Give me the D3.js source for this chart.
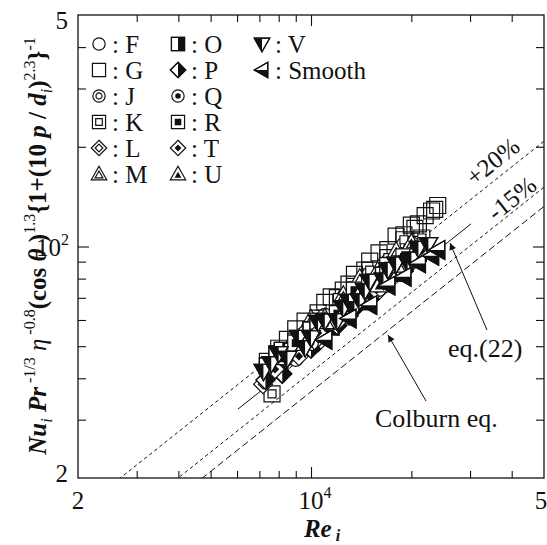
<!DOCTYPE html>
<html>
<head>
<meta charset="utf-8">
<script src="https://cdn.jsdelivr.net/npm/d3@7"></script>
<style>
body { margin: 0; background: #fff; }
</style>
</head>
<body>
<svg id="chart" width="547" height="545" font-family="'Liberation Serif', 'Times New Roman', 'DejaVu Serif', serif"></svg>
<script>
// data: Re_i and the Nu group for each tube
const reF = [8000, 9000, 10000, 11000, 12000, 13000, 14500, 16000, 18000, 20000]
const nuF = [43.2, 45.8, 53.4, 56.4, 63.2, 65.5, 74.5, 79.4, 89.8, 101.8]
const reG = [7400, 8000, 8500, 9000, 9600, 10500, 11000, 11500, 12500, 13000, 13500, 14500, 15000, 16000, 17000, 18000, 19000, 20000, 20500, 21000, 22000, 23000, 23500, 24000]
const nuG = [45.0, 49.3, 52.4, 56.4, 59.5, 63.0, 67.8, 70.5, 73.8, 77.0, 82.4, 84.9, 90.3, 95.7, 97.9, 107.5, 108.5, 116.1, 113.4, 117.0, 124.0, 128.0, 129.5, 133.0]
const reJ = [8500, 9600, 11000, 12500, 14000, 15000, 17000, 19000, 20000]
const nuJ = [47.8, 54.7, 61.7, 69.9, 74.9, 82.5, 90.0, 101.1, 100.0]
const reK = [7640, 9000, 10500, 12000, 13500, 15000, 17000, 19000, 21500]
const nuK = [35.9, 51.8, 60.8, 70.1, 75.8, 84.8, 92.5, 104.8, 106.1]
const reL = [7180, 8200, 9200, 10500, 11500, 13000, 14500, 16000, 18000, 20000]
const nuL = [38.4, 41.2, 47.5, 51.3, 57.9, 61.8, 71.2, 73.8, 85.8, 90.8]
const reM = [8800, 10000, 11000, 12500, 14000, 16000, 18000, 20000]
const nuM = [51.7, 60.5, 60.9, 71.3, 80.3, 85.7, 96.8, 102.4]
const reO = [7400, 7900, 8200, 8800, 9600, 10000, 10500, 11500, 12500, 13500, 14000, 15000, 16500, 17000, 18000, 19500, 21000]
const nuO = [43.6, 47.4, 48.6, 48.3, 50.3, 56.0, 56.7, 57.2, 63.8, 70.7, 68.2, 72.8, 82.0, 86.4, 83.1, 92.3, 95.3]
const reP = [7300, 8200, 9200, 10000, 11000, 12000, 13500, 15000, 17000, 19000, 21000]
const nuP = [39.5, 41.3, 47.6, 49.1, 56.0, 57.7, 65.0, 69.3, 79.4, 84.4, 92.6]
const reQ = [8500, 10000, 11500, 13000, 14500, 16000, 18000, 20000]
const nuQ = [46.8, 51.2, 58.9, 62.7, 71.9, 74.5, 85.4, 90.4]
const reR = [9000, 10500, 12000, 13500, 15000, 17000, 19000]
const nuR = [51.1, 59.5, 62.7, 73.8, 76.9, 87.5, 93.0]
const reT = [7800, 9200, 10500, 12000, 13500, 15000, 17000, 19500, 21500]
const nuT = [42.6, 46.6, 54.8, 59.3, 67.8, 70.8, 81.6, 88.6, 97.1]
const reU = [8200, 9600, 11000, 12500, 14000, 16000, 18000, 20000]
const nuU = [46.2, 51.0, 59.3, 62.9, 71.9, 76.6, 87.9, 92.9]
const reV = [7200, 7600, 8000, 8500, 9200, 9600, 10000, 10500, 11000, 12000, 12500, 13000, 13500, 14000, 14500, 15000, 16500, 17000, 18000, 19500, 20000, 21000, 22500]
const nuV = [42.0, 44.3, 47.5, 45.9, 53.2, 49.5, 53.0, 59.0, 59.6, 59.7, 65.3, 68.3, 64.9, 68.5, 73.6, 78.5, 79.2, 85.2, 88.5, 89.3, 91.6, 98.7, 101.3]
const reSmooth = [11000, 13000, 15000, 17000, 19000, 21000, 23000, 24000]
const nuSmooth = [52.3, 60.6, 66.5, 76.2, 81.0, 88.9, 93.7, 97.6]

// correlation lines  C * Re^0.8
const kUpper = 0.0362 // +20%
const kEq22 = 0.0305
const kLower = 0.0263 // -15%
const kColburn = 0.023
const eq22Range = [6040, 30200]

const xTicks = [3000, 4000, 5000, 6000, 7000, 8000, 9000, 10000, 20000, 30000, 40000]
const yTicks = [30, 40, 50, 60, 70, 80, 90, 100, 200, 300, 400]

const series = [
	{ name: 'F', type: 'circle', re: reF, nu: nuF },
	{ name: 'G', type: 'square', re: reG, nu: nuG },
	{ name: 'J', type: 'dcircle', re: reJ, nu: nuJ },
	{ name: 'K', type: 'dsquare', re: reK, nu: nuK },
	{ name: 'L', type: 'ddiamond', re: reL, nu: nuL },
	{ name: 'M', type: 'dtriangle', re: reM, nu: nuM },
	{ name: 'O', type: 'halfsquare', re: reO, nu: nuO },
	{ name: 'P', type: 'halfdiamond', re: reP, nu: nuP },
	{ name: 'Q', type: 'dotcircle', re: reQ, nu: nuQ },
	{ name: 'R', type: 'dotsquare', re: reR, nu: nuR },
	{ name: 'T', type: 'dotdiamond', re: reT, nu: nuT },
	{ name: 'U', type: 'dottriangle', re: reU, nu: nuU },
	{ name: 'V', type: 'vtri', re: reV, nu: nuV },
	{ name: 'Smooth', type: 'smooth', re: reSmooth, nu: nuSmooth },
]

const svg = d3.select('#chart')
const pL = 78, pR = 544, pT = 15, pB = 478
const ink = '#111'

const x = d3.scaleLog().domain([2000, 50000]).range([pL, pR])
const y = d3.scaleLog().domain([20, 500]).range([pB, pT])

const defs = svg.append('defs')
defs.append('clipPath').attr('id', 'plot')
	.append('rect').attr('x', pL).attr('y', pT)
	.attr('width', pR - pL).attr('height', pB - pT)
defs.append('marker').attr('id', 'arrow')
	.attr('viewBox', '0 0 10 10').attr('refX', 10).attr('refY', 5)
	.attr('markerWidth', 11).attr('markerHeight', 7)
	.attr('markerUnits', 'userSpaceOnUse').attr('orient', 'auto')
	.append('path').attr('d', 'M0,0 L10,5 L0,10 Z').attr('fill', ink)

// ticks (inside, on all four sides)
function tickAxis(axis, tf, vals, len) {
	const g = svg.append('g').attr('transform', tf)
		.call(axis.tickValues(vals).tickSize(-len).tickFormat(''))
	g.select('.domain').remove()
	g.selectAll('line').attr('stroke', ink).attr('stroke-width', 1.1)
}
const minorX = xTicks.filter(d => d !== 10000), minorY = yTicks.filter(d => d !== 100)
tickAxis(d3.axisBottom(x), `translate(0,${pB})`, minorX, 7)
tickAxis(d3.axisBottom(x), `translate(0,${pB})`, [10000], 11)
tickAxis(d3.axisTop(x), `translate(0,${pT})`, minorX, 7)
tickAxis(d3.axisTop(x), `translate(0,${pT})`, [10000], 11)
tickAxis(d3.axisLeft(y), `translate(${pL},0)`, minorY, 8)
tickAxis(d3.axisLeft(y), `translate(${pL},0)`, [100], 11)
tickAxis(d3.axisRight(y), `translate(${pR},0)`, minorY, 8)
tickAxis(d3.axisRight(y), `translate(${pR},0)`, [100], 11)

svg.append('rect').attr('x', pL).attr('y', pT)
	.attr('width', pR - pL).attr('height', pB - pT)
	.attr('fill', 'none').attr('stroke', ink).attr('stroke-width', 1.3)

// correlation lines
const lineG = svg.append('g').attr('clip-path', 'url(#plot)')
const powLine = d3.line().x(d => x(d[0])).y(d => y(d[1]))
function corr(k, range, dash) {
	const pts = range.map(r => [r, k * Math.pow(r, 0.8)])
	lineG.append('path').attr('d', powLine(pts))
		.attr('fill', 'none').attr('stroke', ink).attr('stroke-width', 1)
		.attr('stroke-dasharray', dash)
}
corr(kUpper, [2000, 50000], '3.5,3')
corr(kLower, [2000, 50000], '3.5,3')
corr(kColburn, [2000, 50000], '7,3.5')
corr(kEq22, eq22Range, null)

// markers
function tri(h, dir) {
	if (dir === 'up') return `M0,${-h}L${h},${h * 0.75}L${-h},${h * 0.75}Z`
	if (dir === 'down') return `M0,${h}L${h},${-h * 0.75}L${-h},${-h * 0.75}Z`
	return `M${-h},0L${h * 0.75},${-h}L${h * 0.75},${h}Z`
}
const sq = h => `M${-h},${-h}H${h}V${h}H${-h}Z`
const dia = h => `M0,${-h}L${h},0L0,${h}L${-h},0Z`

function drawMarker(g, type, sc) {
	const sw = 1.2
	const open = (d, f) => g.append('path').attr('d', d).attr('fill', f || '#fff').attr('stroke', ink).attr('stroke-width', sw)
	const solid = (d) => g.append('path').attr('d', d).attr('fill', ink)
	const circ = (r, fill) => g.append('circle').attr('r', r).attr('fill', fill).attr('stroke', fill === ink ? 'none' : ink).attr('stroke-width', sw)
	const rc = 7.5 * sc, rs = 8 * sc, rd = 9.4 * sc, rt = 9.4 * sc
	switch (type) {
		case 'circle': circ(rc, '#fff'); break
		case 'square': open(sq(rs), 'none'); break
		case 'dcircle': circ(rc, '#fff'); circ(rc * 0.5, '#fff'); break
		case 'dsquare': open(sq(rs), 'none'); open(sq(rs * 0.5)); break
		case 'ddiamond': open(dia(rd)); open(dia(rd * 0.5)); break
		case 'dtriangle': open(tri(rt, 'up')); g.append('path').attr('d', tri(rt * 0.5, 'up')).attr('transform', `translate(0,${rt * 0.12})`).attr('fill', '#fff').attr('stroke', ink).attr('stroke-width', sw); break
		case 'halfsquare': open(sq(rs)); solid(`M0,${-rs}H${rs}V${rs}H0Z`); open(sq(rs), 'none'); break
		case 'halfdiamond': open(dia(rd)); solid(`M0,${-rd}L${rd},0L0,${rd}Z`); open(dia(rd), 'none'); break
		case 'dotcircle': circ(rc, '#fff'); circ(rc * 0.45, ink); break
		case 'dotsquare': open(sq(rs)); solid(sq(rs * 0.5)); break
		case 'dotdiamond': open(dia(rd)); solid(dia(rd * 0.45)); break
		case 'dottriangle': open(tri(rt, 'up')); g.append('path').attr('d', tri(rt * 0.45, 'up')).attr('transform', `translate(0,${rt * 0.15})`).attr('fill', ink); break
		case 'vtri': open(tri(rt, 'down')); solid(`M0,${rt}L${-rt},${-rt * 0.75}L0,${-rt * 0.75}Z`); open(tri(rt, 'down'), 'none'); break
		case 'smooth': open(tri(rt, 'left')); solid(`M${-rt},0L${rt * 0.75},0L${rt * 0.75},${rt}Z`); open(tri(rt, 'left'), 'none'); break
	}
}

const markG = svg.append('g').attr('clip-path', 'url(#plot)')
series.forEach(s => {
	const pts = s.re.map((r, i) => [r, s.nu[i]])
	markG.selectAll(null).data(pts).enter().append('g')
		.attr('transform', d => `translate(${x(d[0])},${y(d[1])})`)
		.each(function () { drawMarker(d3.select(this), s.type, 1) })
})

// legend
const legCols = [[0, 1, 2, 3, 4, 5], [6, 7, 8, 9, 10, 11], [12, 13]]
const colX = [99, 178, 262]
legCols.forEach((col, c) => {
	col.forEach((idx, r) => {
		const s = series[idx]
		const cy = 44 + r * 26
		const g = svg.append('g').attr('transform', `translate(${colX[c]},${cy})`)
		drawMarker(g, s.type, 0.82)
		svg.append('text').attr('x', colX[c] + 13).attr('y', cy + 9)
			.attr('font-size', 25).attr('fill', ink).text(': ' + s.name)
	})
})

// tick labels
function powLabel(xp, yp, base, exp, anchor) {
	const t = svg.append('text').attr('x', xp).attr('y', yp).attr('font-size', 25)
		.attr('text-anchor', anchor).attr('fill', ink)
	t.append('tspan').text(base)
	if (exp) t.append('tspan').attr('dy', -11).attr('font-size', 16).text(exp)
}
powLabel(x(2000), 509, '2', null, 'middle')
powLabel(x(10000) + 4, 509, '10', '4', 'middle')
powLabel(x(50000) - 3, 509, '5', null, 'middle')
powLabel(68, y(500) + 14, '5', null, 'end')
powLabel(69, y(100) + 9, '10', '2', 'end')
powLabel(68, y(20) + 4, '2', null, 'end')

// axis titles
const xt = svg.append('text').attr('x', 322).attr('y', 537).attr('font-size', 25)
	.attr('text-anchor', 'middle').attr('font-weight', 'bold').attr('font-style', 'italic').attr('fill', ink)
xt.append('tspan').text('Re')
xt.append('tspan').attr('dy', 4).attr('font-size', 16).text(' i')

const yPieces = [
	['Nu', 'bi', 0], ['i', 'i', 1], [' Pr', 'bi', 0], [' -1/3', 'n', -1],
	['  η', 'i', 0], [' -0.8', 'n', -1], ['(cos ', 'b', 0], ['θ', 'bi', 0], [' )', 'b', 0],
	['1.3', 'n', -1], ['{1+(10 ', 'b', 0], ['p', 'bi', 0], [' / ', 'b', 0], ['d', 'bi', 0],
	['i', 'i', 1], [')', 'b', 0], ['2.3', 'n', -1], ['}', 'b', 0], ['-1', 'n', -1],
]
const yt = svg.append('text').attr('transform', 'translate(46,246) rotate(-90)')
	.attr('font-size', 25).attr('text-anchor', 'middle').attr('fill', ink)
let level = 0
const shift = { '-1': -11, '0': 0, '1': 6 }
yPieces.forEach(([txt, st, lv]) => {
	const sp = yt.append('tspan').text(txt)
	sp.attr('dy', shift[lv] - shift[level])
	level = lv
	if (lv !== 0) sp.attr('font-size', 16)
	if (st.includes('b')) sp.attr('font-weight', 'bold')
	if (st.includes('i')) sp.attr('font-style', 'italic')
})

// annotations
const ang = -38.5
svg.append('text').attr('transform', `translate(498,168) rotate(${ang})`)
	.attr('font-size', 25).attr('text-anchor', 'middle').attr('fill', ink).text('+20%')
svg.append('text').attr('transform', `translate(517,205) rotate(${ang})`)
	.attr('font-size', 25).attr('text-anchor', 'middle').attr('fill', ink).text('-15%')
svg.append('text').attr('x', 448).attr('y', 357).attr('font-size', 26).attr('fill', ink).text('eq.(22)')
svg.append('text').attr('x', 375).attr('y', 427).attr('font-size', 26).attr('fill', ink).text('Colburn eq.')

svg.append('line').attr('x1', 487).attr('y1', 330).attr('x2', 450).attr('y2', 243)
	.attr('stroke', ink).attr('stroke-width', 1).attr('marker-end', 'url(#arrow)')
svg.append('line').attr('x1', 426).attr('y1', 401).attr('x2', 388).attr('y2', 335)
	.attr('stroke', ink).attr('stroke-width', 1).attr('marker-end', 'url(#arrow)')
</script>
</body>
</html>
